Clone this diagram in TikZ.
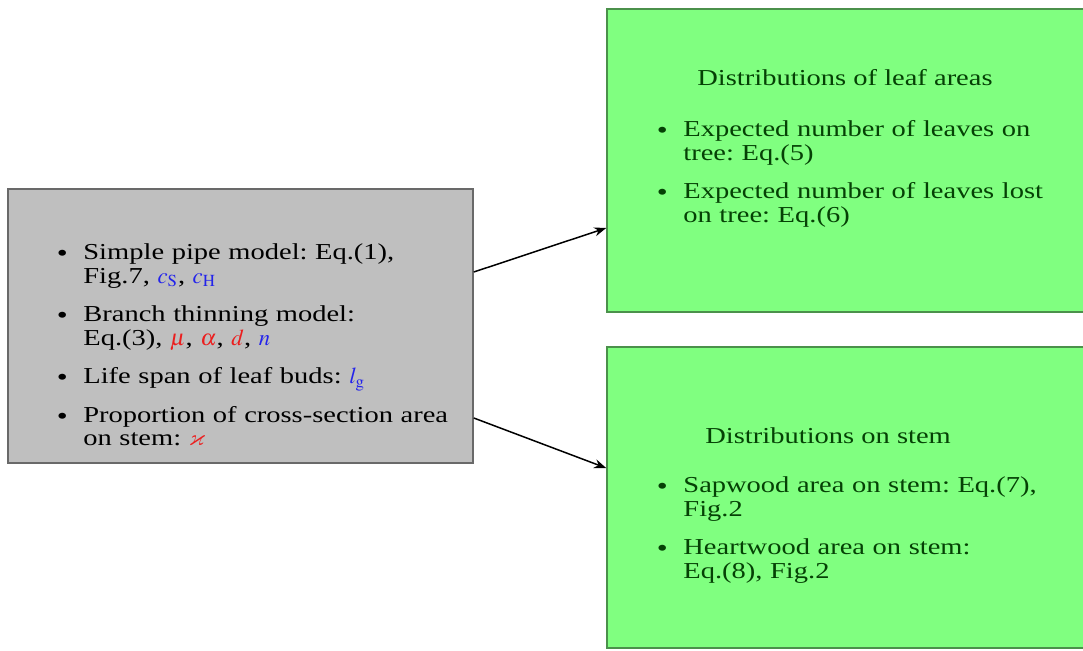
\documentclass[tikz,border=0pt]{standalone}
\usepackage{amssymb}
\usepackage{mathptmx}
\usepackage{fontspec}
\setmainfont{Liberation Serif}[FakeStretch=1.25]
\usetikzlibrary{arrows.meta}

\definecolor{boxgray}{RGB}{191,191,191}
\definecolor{graydraw}{RGB}{105,105,105}
\definecolor{leafgreen}{RGB}{128,255,128}
\definecolor{greendraw}{RGB}{75,145,75}
\definecolor{darkgreen}{RGB}{5,65,5}
\definecolor{symblue}{RGB}{35,35,235}
\definecolor{symred}{RGB}{235,30,30}

\newcommand{\bl}[1]{\textcolor{symblue}{#1}}
\newcommand{\rd}[1]{\textcolor{symred}{#1}}

% bullet list with small dots and tight lines
\newcommand{\dotlist}[1]{%
  \begin{list}{\makebox[0pt]{\raisebox{-0.9pt}{\fontsize{12.5}{12.5}\selectfont\textbullet}}}%
    {\setlength{\leftmargin}{10.5pt}\setlength{\labelwidth}{0pt}%
     \setlength{\labelsep}{10.5pt}\setlength{\topsep}{0pt}%
     \setlength{\partopsep}{0pt}\setlength{\parsep}{0pt}%
     \setlength{\itemsep}{7.5pt}}%
  #1\end{list}}

\begin{document}
\frenchspacing
\begin{tikzpicture}[x=0.5pt, y=-0.5pt,
    arrow/.style = {line width=0.75pt,-{Stealth[length=6pt,width=4.5pt]}},
    graybox/.style = {draw=graydraw, fill=boxgray, line width=0.8pt,
                      minimum width=232.5pt, minimum height=137pt},
    greenbox/.style = {draw=greendraw, fill=leafgreen, line width=0.8pt,
                       minimum width=244pt},
    items/.style = {anchor=north west, inner sep=0pt, text width=205pt,
                    align=left, font=\fontsize{11.4}{11.75}\selectfont},
    heading/.style = {anchor=base west, inner sep=0pt, text=darkgreen,
                      font=\fontsize{11.4}{11.75}\selectfont}]
  \useasboundingbox (0,0) rectangle (1083,650);
  \fill[white] (0,0) rectangle (1083,650);

  % boxes
  \node[graybox] (model) at (240.5,326) {};
  \node[greenbox, minimum height=151.5pt] (leaf) at (851,160.5) {};
  \node[greenbox, minimum height=150.5pt] (stem) at (851,497.5) {};

  \draw[arrow] ([yshift=27pt]model.east) -- ([yshift=-33.75pt]leaf.west);
  \draw[arrow] ([yshift=-46pt]model.east) -- ([yshift=14.75pt]stem.west);

  % model inputs
  \node[items] (modelitems) at (62,236) {\dotlist{%
    \item Simple pipe model: Eq.(1),\newline Fig.7, \bl{$c_{\mathrm{S}}$}, \bl{$c_{\mathrm{H}}$}
    \item Branch thinning model:\newline Eq.(3), \rd{$\mu$}, \rd{$\alpha$}, \rd{$d$}, \bl{$n$}
    \item Life span of leaf buds: \bl{$l_{\mathrm{g}}$}
    \item Proportion of cross-section area\newline on stem: \rd{$\varkappa$}}};

  % outputs
  \node[heading] (leaftitle) at (697,85) {Distributions of leaf areas};
  \node[items, text=darkgreen] (leafitems) at (662,113) {\dotlist{%
    \item Expected number of leaves on\newline tree: Eq.(5)
    \item Expected number of leaves lost\newline on tree: Eq.(6)}};

  \node[heading] (stemtitle) at (705,443) {Distributions on stem};
  \node[items, text=darkgreen] (stemitems) at (662,469) {\dotlist{%
    \item Sapwood area on stem: Eq.(7),\newline Fig.2
    \item Heartwood area on stem:\newline Eq.(8), Fig.2}};
\end{tikzpicture}
\end{document}
